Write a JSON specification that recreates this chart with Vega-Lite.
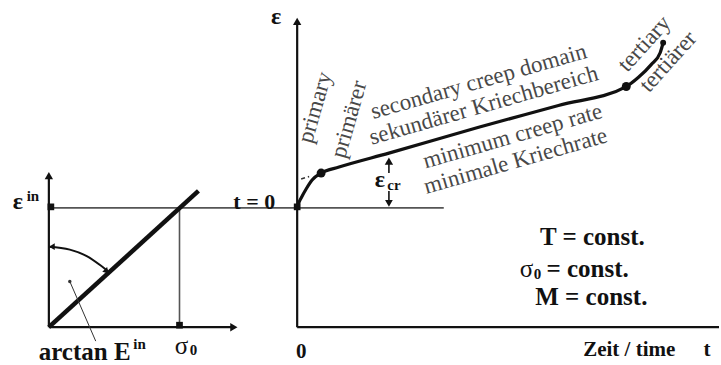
{
  "$schema": "https://vega.github.io/schema/vega-lite/v6.json",
  "width": 721,
  "height": 365,
  "autosize": {"type": "fit", "contains": "padding"},
  "padding": 0,
  "background": "white",
  "config": {"view": {"stroke": null}, "text": {"font": "Liberation Serif"}},
  "datasets": {
    "guides": [
      {"name": "t0", "x": -249, "y": 120, "x2": 147, "y2": 120},
      {"name": "sigma0", "x": -118, "y": 0, "x2": -118, "y2": 120}
    ],
    "axes": [
      {"name": "eps", "x": 0, "y": 0, "x2": 0, "y2": 308},
      {"name": "time", "x": 0, "y": 0, "x2": 423, "y2": 0},
      {"name": "eps_in", "x": -249, "y": 0, "x2": -249, "y2": 152},
      {"name": "sigma", "x": -249, "y": 0, "x2": -65, "y2": 0}
    ],
    "stiffness": [{"name": "E_in", "x": -249, "y": 0, "x2": -99, "y2": 137}],
    "leader": [{"name": "arctan", "x": -228, "y": 46, "x2": -202, "y2": -14}],
    "tangent": [{"name": "secondary", "x": 4, "y": 149, "x2": 12, "y2": 151.5}],
    "epsCr": [
      {"name": "up", "x": 92, "y": 155, "x2": 92, "y2": 167},
      {"name": "down", "x": 92, "y": 125, "x2": 92, "y2": 137}
    ],
    "arc": [
      {"i": 0, "x": -249, "y": 81},
      {"i": 1, "x": -228, "y": 78},
      {"i": 2, "x": -211, "y": 71.5},
      {"i": 3, "x": -197, "y": 62},
      {"i": 4, "x": -190, "y": 56.5}
    ],
    "creep": [
      {"x": 0.5, "y": 121},
      {"x": 2, "y": 126},
      {"x": 4, "y": 130},
      {"x": 9, "y": 139},
      {"x": 15, "y": 148},
      {"x": 24, "y": 155},
      {"x": 42, "y": 161},
      {"x": 92, "y": 175},
      {"x": 182, "y": 201},
      {"x": 262, "y": 223},
      {"x": 330, "y": 242},
      {"x": 342, "y": 251},
      {"x": 355, "y": 264},
      {"x": 364, "y": 276},
      {"x": 367, "y": 286}
    ],
    "heads": [
      {"dir": "up", "x": 0, "y": 307.5},
      {"dir": "up", "x": -249, "y": 152.5},
      {"dir": "right", "x": -63.5, "y": 0},
      {"dir": "up", "x": 92, "y": 167},
      {"dir": "down", "x": 92, "y": 124.5},
      {"dir": "left", "x": -246, "y": 81},
      {"dir": "arc", "x": -191, "y": 56}
    ],
    "stages": [
      {"stage": "start", "x": 24, "y": 155},
      {"stage": "tertiary", "x": 330, "y": 242}
    ],
    "endpoint": [{"stage": "end", "x": 367, "y": 286}],
    "markers": [
      {"name": "t0", "x": 0, "y": 121},
      {"name": "eps_in", "x": -247, "y": 121},
      {"name": "sigma0", "x": -118, "y": 2}
    ],
    "bigBold": [
      {"label": "ε", "x": -21, "y": 312},
      {"label": "ε", "x": -280, "y": 126},
      {"label": "ε", "x": 83, "y": 148}
    ],
    "constBold": [
      {"label": "T = const.", "x": 296, "y": 91},
      {"label": "M = const.", "x": 295, "y": 30}
    ],
    "leftBold": [{"label": "= const.", "x": 250, "y": 59}],
    "rightBold": [{"label": "arctan E", "x": -167, "y": -25}],
    "supBold": [
      {"label": "in", "x": -265, "y": 132},
      {"label": "in", "x": -158, "y": -17},
      {"label": "cr", "x": 97, "y": 143}
    ],
    "sigmaText": [
      {"label": "σ", "x": -116, "y": -19},
      {"label": "σ", "x": 230, "y": 59}
    ],
    "subText": [
      {"label": "0", "x": -104, "y": -23},
      {"label": "0", "x": 241, "y": 53}
    ],
    "midBold": [{"label": "t = 0", "x": -43, "y": 126}],
    "axisLabels": [
      {"label": "0", "x": 4, "y": -25},
      {"label": "Zeit / time", "x": 333, "y": -23},
      {"label": "t", "x": 411, "y": -23}
    ],
    "primaryText": [
      {"label": "primary", "x": 18, "y": 221},
      {"label": "primärer", "x": 52, "y": 209}
    ],
    "secondaryText": [
      {"label": "secondary creep domain", "x": 182, "y": 247},
      {"label": "sekundärer Kriechbereich", "x": 187, "y": 223},
      {"label": "minimum creep rate", "x": 216, "y": 192},
      {"label": "minimale Kriechrate", "x": 219, "y": 167}
    ],
    "tertiaryText": [
      {"label": "tertiary", "x": 348, "y": 285},
      {"label": "tertiärer", "x": 372, "y": 267}
    ]
  },
  "encoding": {
    "x": {"field": "x", "type": "quantitative", "scale": {"domain": [-298, 423], "nice": false, "zero": false}, "axis": null},
    "y": {"field": "y", "type": "quantitative", "scale": {"domain": [-36, 329], "nice": false, "zero": false}, "axis": null}
  },
  "layer": [
    {"data": {"name": "guides"}, "mark": {"type": "rule", "stroke": "#555555", "strokeWidth": 1.6},
     "encoding": {"x2": {"field": "x2"}, "y2": {"field": "y2"}}},
    {"data": {"name": "axes"}, "mark": {"type": "rule", "stroke": "#111111", "strokeWidth": 2.2},
     "encoding": {"x2": {"field": "x2"}, "y2": {"field": "y2"}}},
    {"data": {"name": "stiffness"}, "mark": {"type": "rule", "stroke": "#111111", "strokeWidth": 4.5},
     "encoding": {"x2": {"field": "x2"}, "y2": {"field": "y2"}}},
    {"data": {"name": "leader"}, "mark": {"type": "rule", "stroke": "#333333", "strokeWidth": 1},
     "encoding": {"x2": {"field": "x2"}, "y2": {"field": "y2"}}},
    {"data": {"name": "tangent"}, "mark": {"type": "rule", "stroke": "#333333", "strokeWidth": 1.5, "strokeDash": [4, 3]},
     "encoding": {"x2": {"field": "x2"}, "y2": {"field": "y2"}}},
    {"data": {"name": "epsCr"}, "mark": {"type": "rule", "stroke": "#111111", "strokeWidth": 1.6},
     "encoding": {"x2": {"field": "x2"}, "y2": {"field": "y2"}}},
    {"data": {"name": "arc"}, "mark": {"type": "line", "stroke": "#111111", "strokeWidth": 2, "interpolate": "monotone"},
     "encoding": {"order": {"field": "i", "type": "quantitative"}}},
    {"data": {"name": "creep"}, "mark": {"type": "line", "stroke": "#111111", "strokeWidth": 3.2, "interpolate": "monotone"},
     "encoding": {}},
    {"data": {"name": "heads"}, "transform": [{"filter": "datum.dir === 'up'"}],
     "mark": {"type": "point", "shape": "triangle-up", "filled": true, "color": "#111111", "size": 70, "opacity": 1}},
    {"data": {"name": "heads"}, "transform": [{"filter": "datum.dir === 'down'"}],
     "mark": {"type": "point", "shape": "triangle-down", "filled": true, "color": "#111111", "size": 60, "opacity": 1}},
    {"data": {"name": "heads"}, "transform": [{"filter": "datum.dir === 'right'"}],
     "mark": {"type": "point", "shape": "triangle-right", "filled": true, "color": "#111111", "size": 70, "opacity": 1}},
    {"data": {"name": "heads"}, "transform": [{"filter": "datum.dir === 'left'"}],
     "mark": {"type": "point", "shape": "triangle-left", "filled": true, "color": "#111111", "size": 45, "opacity": 1}},
    {"data": {"name": "heads"}, "transform": [{"filter": "datum.dir === 'arc'"}],
     "mark": {"type": "point", "shape": "triangle-right", "angle": 46, "filled": true, "color": "#111111", "size": 45, "opacity": 1}},
    {"data": {"name": "stages"}, "mark": {"type": "circle", "color": "#111111", "size": 80, "opacity": 1}},
    {"data": {"name": "endpoint"}, "mark": {"type": "circle", "color": "#111111", "size": 35, "opacity": 1}},
    {"data": {"name": "markers"}, "mark": {"type": "square", "color": "#111111", "size": 45, "opacity": 1}},
    {"data": {"name": "leader"}, "mark": {"type": "circle", "color": "#333333", "size": 12, "opacity": 1}},
    {"data": {"name": "bigBold"}, "mark": {"type": "text", "fontSize": 24, "fontWeight": "bold", "color": "#111111", "align": "center", "baseline": "middle"},
     "encoding": {"text": {"field": "label"}}},
    {"data": {"name": "constBold"}, "mark": {"type": "text", "fontSize": 25, "fontWeight": "bold", "color": "#111111", "align": "center", "baseline": "middle"},
     "encoding": {"text": {"field": "label"}}},
    {"data": {"name": "leftBold"}, "mark": {"type": "text", "fontSize": 25, "fontWeight": "bold", "color": "#111111", "align": "left", "baseline": "middle"},
     "encoding": {"text": {"field": "label"}}},
    {"data": {"name": "rightBold"}, "mark": {"type": "text", "fontSize": 25, "fontWeight": "bold", "color": "#111111", "align": "right", "baseline": "middle"},
     "encoding": {"text": {"field": "label"}}},
    {"data": {"name": "supBold"}, "mark": {"type": "text", "fontSize": 15, "fontWeight": "bold", "color": "#111111", "align": "center", "baseline": "middle"},
     "encoding": {"text": {"field": "label"}}},
    {"data": {"name": "sigmaText"}, "mark": {"type": "text", "fontSize": 25, "color": "#111111", "align": "center", "baseline": "middle"},
     "encoding": {"text": {"field": "label"}}},
    {"data": {"name": "subText"}, "mark": {"type": "text", "fontSize": 15, "fontWeight": "bold", "color": "#111111", "align": "center", "baseline": "middle"},
     "encoding": {"text": {"field": "label"}}},
    {"data": {"name": "midBold"}, "mark": {"type": "text", "fontSize": 22, "fontWeight": "bold", "color": "#111111", "align": "center", "baseline": "middle"},
     "encoding": {"text": {"field": "label"}}},
    {"data": {"name": "axisLabels"}, "mark": {"type": "text", "fontSize": 21, "fontWeight": "bold", "color": "#111111", "align": "center", "baseline": "middle"},
     "encoding": {"text": {"field": "label"}}},
    {"data": {"name": "primaryText"}, "mark": {"type": "text", "fontSize": 23, "color": "#484848", "angle": -74, "align": "center", "baseline": "middle"},
     "encoding": {"text": {"field": "label"}}},
    {"data": {"name": "secondaryText"}, "mark": {"type": "text", "fontSize": 23, "color": "#484848", "angle": -16, "align": "center", "baseline": "middle"},
     "encoding": {"text": {"field": "label"}}},
    {"data": {"name": "tertiaryText"}, "mark": {"type": "text", "fontSize": 23, "color": "#484848", "angle": -48, "align": "center", "baseline": "middle"},
     "encoding": {"text": {"field": "label"}}}
  ]
}
